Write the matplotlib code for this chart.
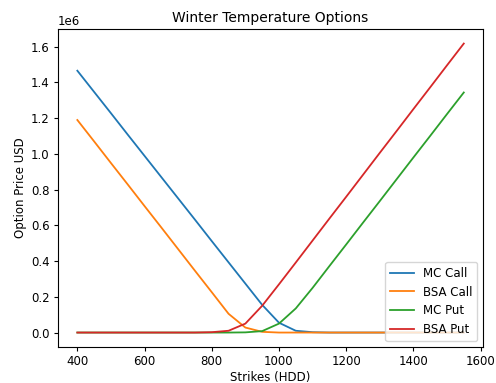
import matplotlib
matplotlib.use("Agg")
import matplotlib.pyplot as plt

strikes = [400, 450, 500, 550, 600, 650, 700, 750, 800, 850, 900, 950,
           1000, 1050, 1100, 1150, 1200, 1250, 1300, 1350, 1400, 1450, 1500, 1550]

mc_call = [1.466e6, 1.347e6, 1.228e6, 1.108e6, 0.989e6, 0.870e6, 0.751e6, 0.632e6,
           0.512e6, 0.393e6, 0.274e6, 0.155e6, 0.055e6, 0.010e6, 0.002e6, 0, 0, 0,
           0, 0, 0, 0, 0, 0]
bsa_call = [1.190e6, 1.070e6, 0.949e6, 0.829e6, 0.708e6, 0.588e6, 0.467e6, 0.346e6,
            0.226e6, 0.105e6, 0.028e6, 0.004e6, 0, 0, 0, 0, 0, 0,
            0, 0, 0, 0, 0, 0]
mc_put = [0, 0, 0, 0, 0, 0, 0, 0, 0, 0, 0.001e6, 0.008e6,
          0.050e6, 0.135e6, 0.250e6, 0.372e6, 0.493e6, 0.615e6, 0.736e6, 0.858e6,
          0.980e6, 1.101e6, 1.223e6, 1.344e6]
bsa_put = [0, 0, 0, 0, 0, 0, 0, 0, 0.002e6, 0.010e6, 0.050e6, 0.150e6,
           0.270e6, 0.392e6, 0.515e6, 0.638e6, 0.760e6, 0.883e6, 1.006e6, 1.128e6,
           1.251e6, 1.373e6, 1.496e6, 1.618e6]

fig = plt.figure(figsize=(4.96, 3.83), dpi=100)
ax = fig.add_axes([0.117, 0.094, 0.857, 0.830])

lw = 1.3
ax.plot(strikes, mc_call, label="MC Call", lw=lw)
ax.plot(strikes, bsa_call, label="BSA Call", lw=lw)
ax.plot(strikes, mc_put, label="MC Put", lw=lw)
ax.plot(strikes, bsa_put, label="BSA Put", lw=lw)

ax.set_title("Winter Temperature Options", fontsize=10, pad=5)
ax.set_xlabel("Strikes (HDD)", fontsize=8.5, labelpad=2)
ax.set_ylabel("Option Price USD", fontsize=8.5, labelpad=3)
ax.tick_params(labelsize=8.5, length=3, pad=3)
ax.yaxis.get_offset_text().set_fontsize(8.5)
ax.legend(loc="lower right", fontsize=8.5)

fig.savefig("out.png", dpi=100)
